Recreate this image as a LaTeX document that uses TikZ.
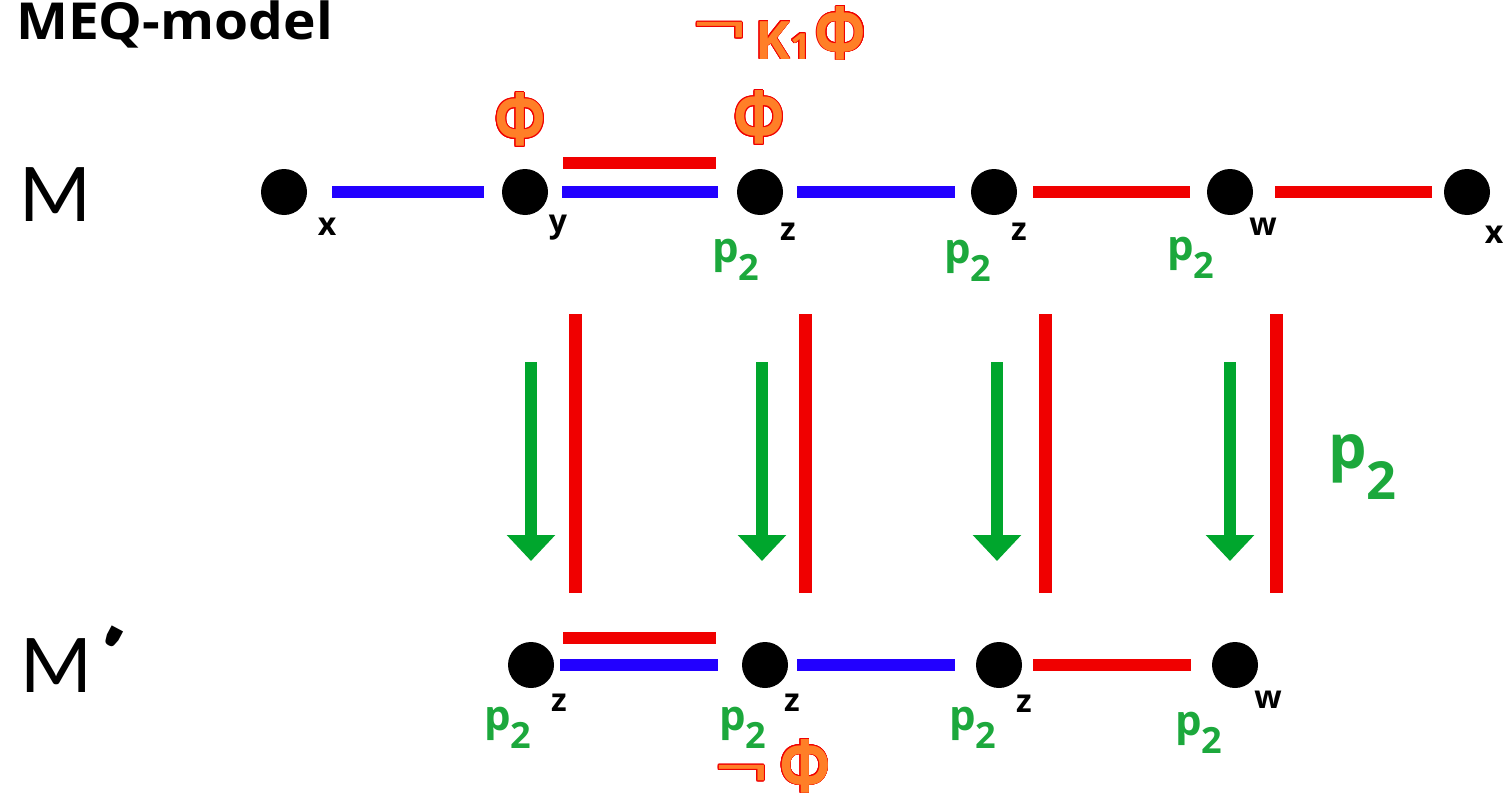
\documentclass[tikz,border=0pt]{standalone}
\usepackage{fontspec}
\setmainfont{Open Sans}
\newfontfamily\calibfont{Carlito}
\usepackage{contour}
\contourlength{0.9pt}
\usetikzlibrary{arrows.meta}
\definecolor{eblue}{RGB}{34,0,255}
\definecolor{ered}{RGB}{240,0,0}
\definecolor{egreen}{RGB}{0,166,45}
\definecolor{pgreen}{RGB}{28,168,60}
\definecolor{eorange}{RGB}{255,127,39}
\newcommand{\ptwo}{p\raisebox{-0.45em}{\scalebox{0.86}{2}}}
\newcommand{\bigphi}{\scalebox{1}[1.22]{Φ}}
\newcommand{\negsign}{{\mdseries\scalebox{1.6}[1]{¬}}}
\newcommand{\ophi}{\contour{ered}{\textcolor{eorange}{\bigphi}}}
\newcommand{\thickprime}{{\fontsize{60}{60}\selectfont\bfseries\scalebox{2}[1.25]{\textquotesingle}}}
\tikzset{
  dot/.style={circle,fill=black,minimum size=46pt,inner sep=0pt},
  bedge/.style={draw=eblue,line width=12pt},
  redge/.style={draw=ered,line width=12pt},
  vbar/.style={draw=ered,line width=13pt},
  garrow/.style={draw=egreen,line width=12pt,-{Triangle[width=47pt,length=26pt]}},
  vlabel/.style={font=\fontsize{32}{32}\selectfont\bfseries,anchor=base,inner sep=0pt},
  plabel/.style={text=pgreen,font=\fontsize{42}{42}\selectfont\bfseries,anchor=base west,inner sep=0pt},
  philabel/.style={text=eorange,font=\fontsize{60}{60}\selectfont\bfseries,inner sep=0pt},
  modellabel/.style={font=\fontsize{84}{84}\selectfont\calibfont,inner sep=0pt},
}
\begin{document}
\begin{tikzpicture}[x=1pt,y=-1pt]
\useasboundingbox (0,0) rectangle (1508,803);

% title
\node[font=\fontsize{51}{51}\selectfont\bfseries,anchor=base west,inner sep=0pt] (title) at (16,39) {\scalebox{1.08}[1]{MEQ-model}};

% model names
\node[modellabel] (mM) at (55,195) {M};
\node[modellabel,anchor=base west] (mMp) at (20,692) {M\hspace{-11pt}\raisebox{0.29em}{\rotatebox{-28}{\thickprime}}};

% top row: worlds of M
\node[dot] (t1) at (284,192) {};
\node[dot] (t2) at (525,192) {};
\node[dot] (t3) at (760,192) {};
\node[dot] (t4) at (994,192) {};
\node[dot] (t5) at (1230,192) {};
\node[dot] (t6) at (1467,192) {};

\draw[bedge,shorten <=25pt,shorten >=18pt] (t1) -- (t2);
\draw[bedge,shorten <=14pt,shorten >=19pt] (t2) -- (t3);
\draw[redge,shorten <=38pt,shorten >=44pt] ([yshift=29pt]t2.center) -- ([yshift=29pt]t3.center);
\draw[bedge,shorten <=14pt,shorten >=16pt] (t3) -- (t4);
\draw[redge,shorten <=16pt,shorten >=17pt] (t4) -- (t5);
\draw[redge,shorten <=22pt,shorten >=12pt] (t5) -- (t6);

% state labels of M
\node[vlabel] (lt1) at (327,235) {x};
\node[vlabel] (lt2) at (558,232) {y};
\node[vlabel] (lt3) at (788,240) {z};
\node[vlabel] (lt4) at (1019,240) {z};
\node[vlabel] (lt5) at (1263,235) {w};
\node[vlabel] (lt6) at (1494,243) {x};

\node[plabel] (pt3) at (712,262) {\ptwo};
\node[plabel] (pt4) at (944,263) {\ptwo};
\node[plabel] (pt5) at (1167,260) {\ptwo};

\node[philabel] (phi1) at (520,120) {\ophi};
\node[philabel] (phi2) at (759,118) {\ophi};
\node[philabel,anchor=base west] (nk) at (692,59) {\contour{ered}{\textcolor{eorange}{\raisebox{0.22em}{\negsign}\hspace{8pt}\fontsize{53}{53}\selectfont K\fontsize{36}{36}\selectfont 1\hspace{4pt}\fontsize{60}{60}\selectfont\bigphi}}};

% update arrows and p2 links
\coordinate (g1a) at (531,362); \coordinate (g1b) at (531,561);
\coordinate (g2a) at (762,362); \coordinate (g2b) at (762,561);
\coordinate (g3a) at (997,362); \coordinate (g3b) at (997,561);
\coordinate (g4a) at (1230,362); \coordinate (g4b) at (1230,561);
\draw[garrow] (g1a) -- (g1b);
\draw[garrow] (g2a) -- (g2b);
\draw[garrow] (g3a) -- (g3b);
\draw[garrow] (g4a) -- (g4b);

\coordinate (r1a) at (575,314); \coordinate (r1b) at (575,593);
\coordinate (r2a) at (805,314); \coordinate (r2b) at (805,593);
\coordinate (r3a) at (1045,314); \coordinate (r3b) at (1045,593);
\coordinate (r4a) at (1276,314); \coordinate (r4b) at (1276,593);
\draw[vbar] (r1a) -- (r1b);
\draw[vbar] (r2a) -- (r2b);
\draw[vbar] (r3a) -- (r3b);
\draw[vbar] (r4a) -- (r4b);

\node[text=pgreen,font=\fontsize{61}{61}\selectfont\bfseries,anchor=base west,inner sep=0pt] (pbig) at (1328,468) {p\raisebox{-0.52em}{\scalebox{0.86}{2}}};

% bottom row: worlds of M'
\node[dot] (b1) at (531,665) {};
\node[dot] (b2) at (765,665) {};
\node[dot] (b3) at (999,665) {};
\node[dot] (b4) at (1235,665) {};

\draw[bedge,shorten <=6pt,shorten >=24pt] (b1) -- (b2);
\draw[redge,shorten <=32pt,shorten >=49pt] ([yshift=27pt]b1.center) -- ([yshift=27pt]b2.center);
\draw[bedge,shorten <=9pt,shorten >=21pt] (b2) -- (b3);
\draw[redge,shorten <=11pt,shorten >=21pt] (b3) -- (b4);

\node[vlabel] (lb1) at (559,711) {z};
\node[vlabel] (lb2) at (792,711) {z};
\node[vlabel] (lb3) at (1024,712) {z};
\node[vlabel] (lb4) at (1268,708) {w};

\node[plabel] (pb1) at (484,730) {\ptwo};
\node[plabel] (pb2) at (719,730) {\ptwo};
\node[plabel] (pb3) at (949,730) {\ptwo};
\node[plabel] (pb4) at (1175,735) {\ptwo};

\node[philabel,anchor=base west] (nphi) at (714,792) {\contour{ered}{\textcolor{eorange}{\raisebox{0.06em}{\negsign}\hspace{10pt}\bigphi}}};
\end{tikzpicture}
\end{document}
